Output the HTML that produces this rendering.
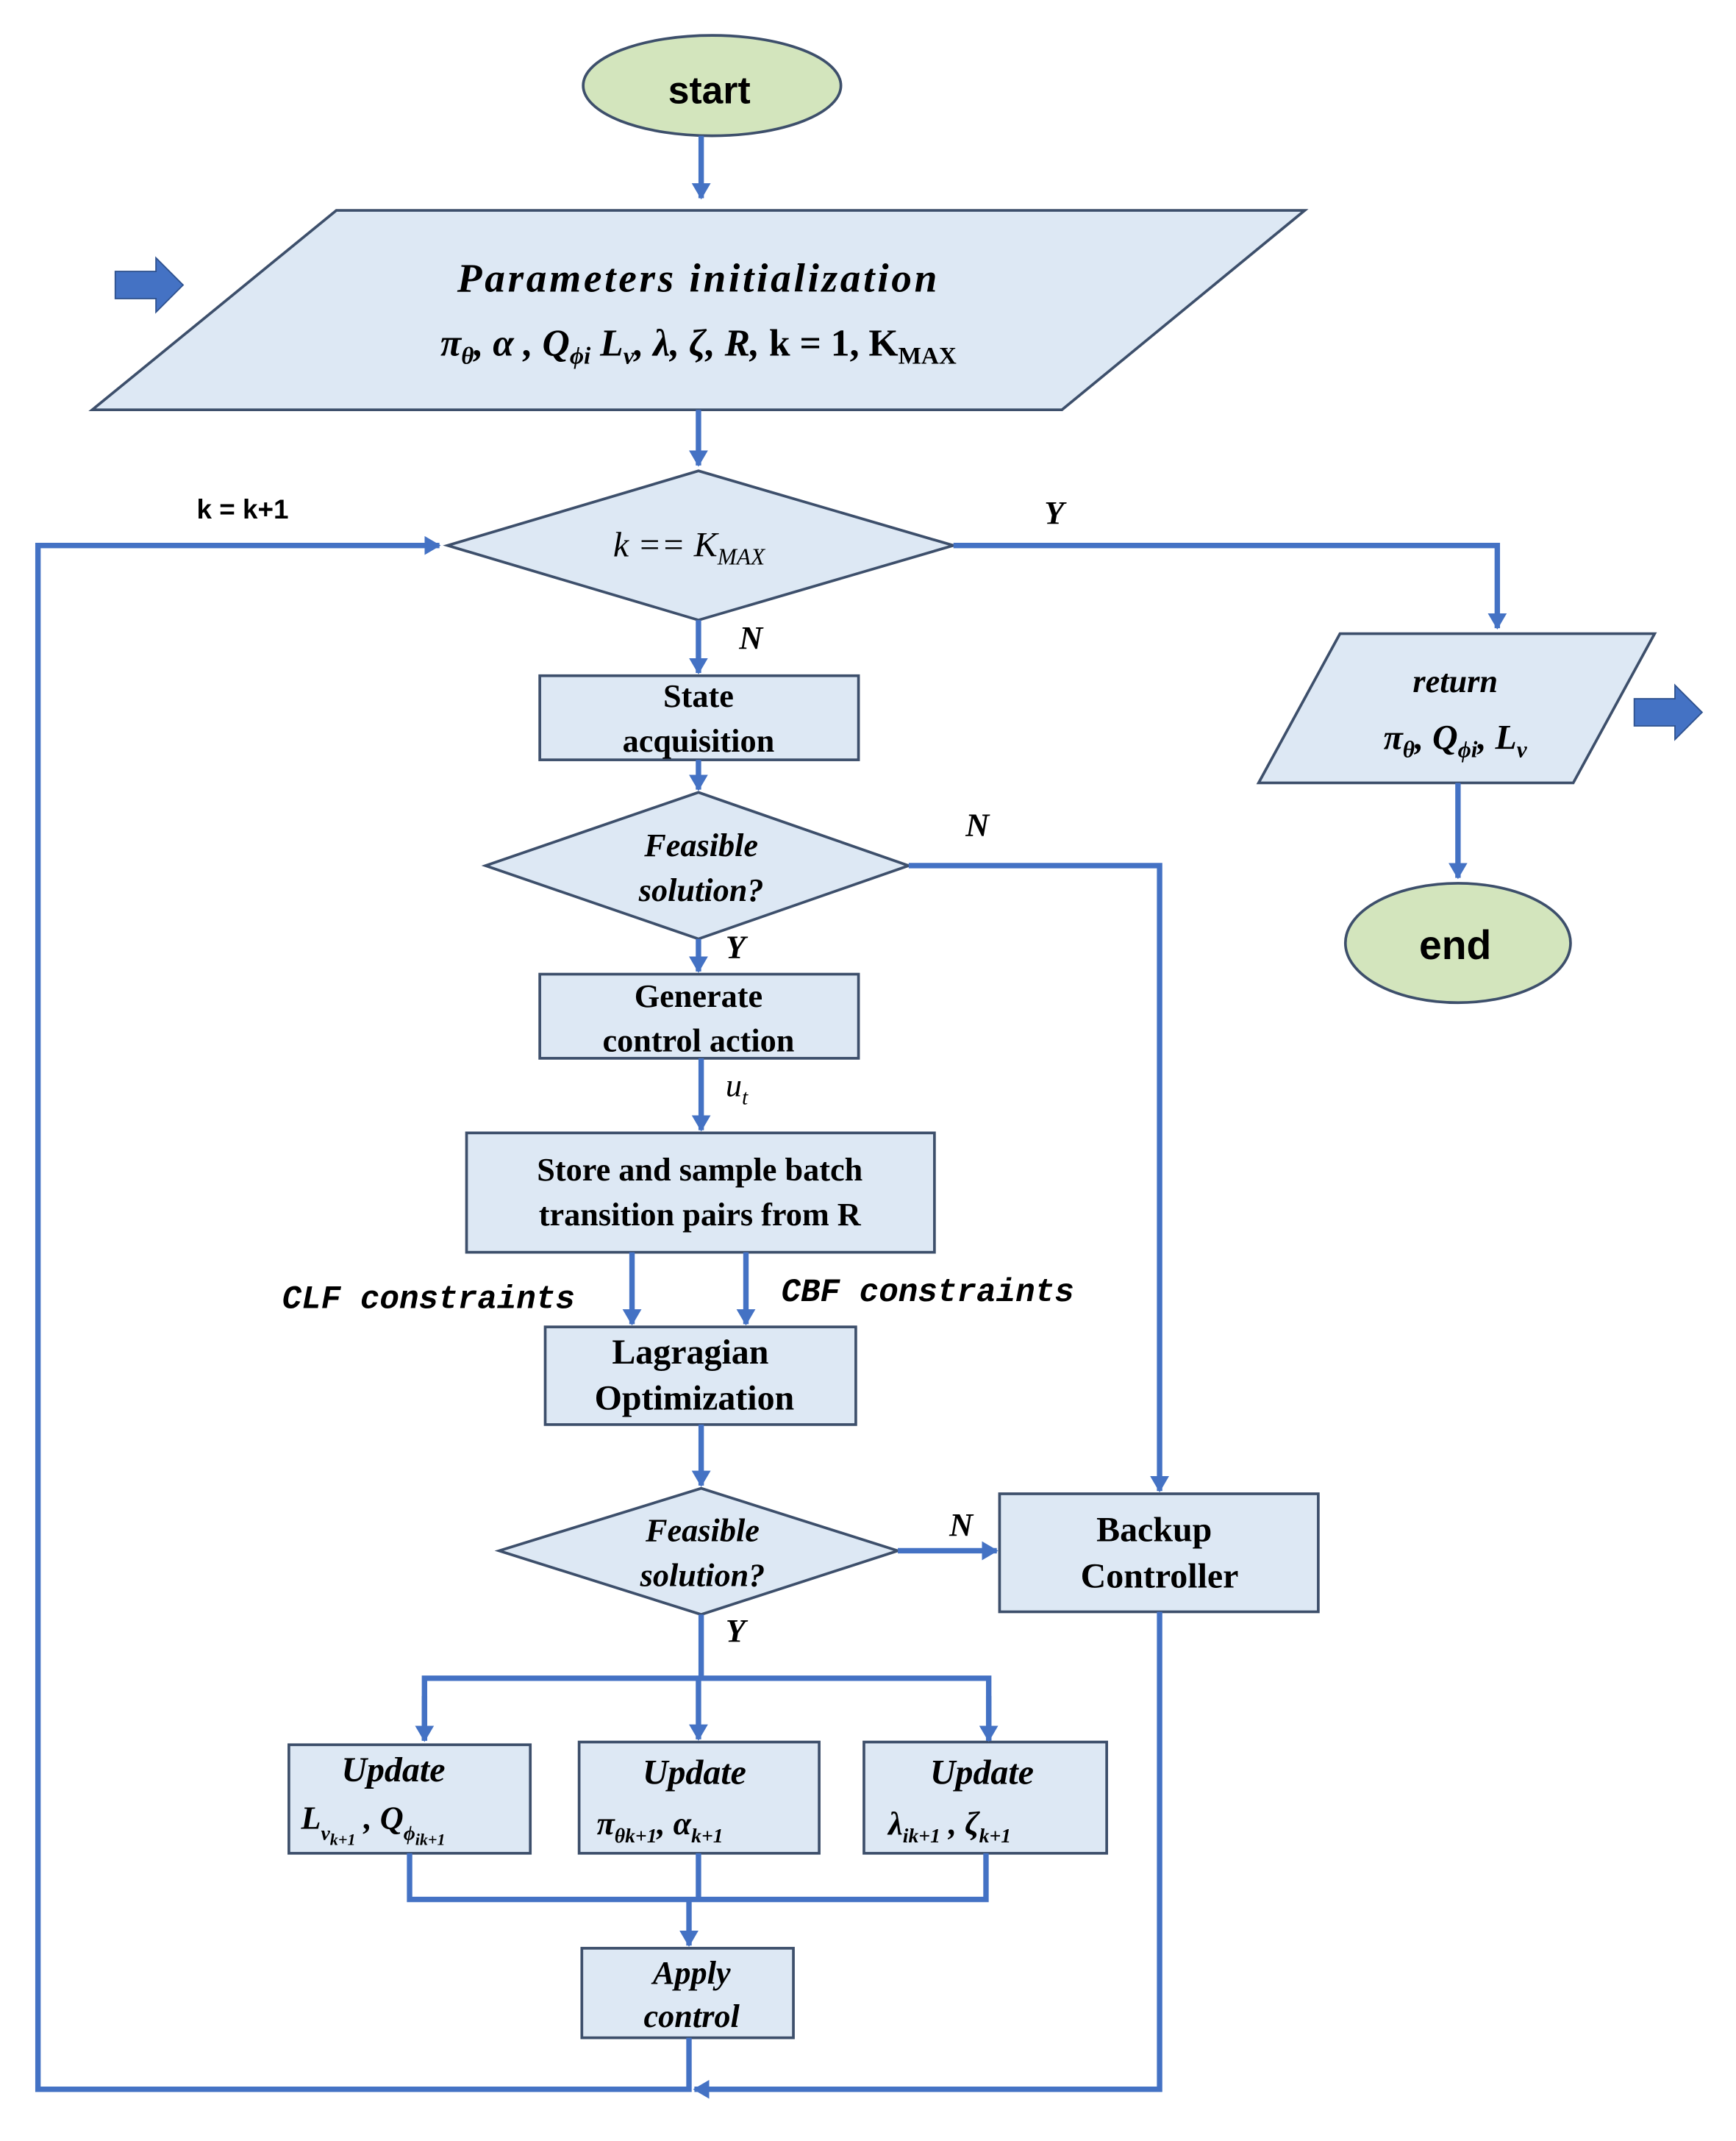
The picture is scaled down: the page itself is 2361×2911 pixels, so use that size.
<!DOCTYPE html>
<html><head><meta charset="utf-8"><style>
html,body{margin:0;padding:0;background:#fff;}
svg{display:block;}
text{font-family:"Liberation Sans",sans-serif;}
.sf{font-family:"Liberation Serif",serif;}
</style></head><body>
<svg width="2361" height="2911" viewBox="0 0 1280 1578" xmlns="http://www.w3.org/2000/svg">
<defs>
<marker id="a" markerWidth="8" markerHeight="8" refX="6" refY="4" orient="auto" markerUnits="userSpaceOnUse"><path d="M0,0 L8,4 L0,8 Z" fill="#4472c4"/></marker>
<marker id="b" markerWidth="14" markerHeight="14" refX="11" refY="7" orient="auto" markerUnits="userSpaceOnUse"><path d="M0,0 L12,7 L0,14 Z" fill="#4472c4"/></marker>
</defs>
<g fill="#dde8f4" stroke="#3d4f6b" stroke-width="2">
<ellipse cx="525" cy="63" rx="95" ry="37" fill="#d3e5bd"/>
<polygon points="248,155 962,155 783,302 68,302"/>
<polygon points="330,402 515,347 703,402 515,457"/>
<polygon points="988,467 1220,467 1160,577 928,577"/>
<ellipse cx="1075" cy="695" rx="83" ry="44" fill="#d3e5bd"/>
<rect x="398" y="498" width="235" height="62"/>
<polygon points="358,638 515,584 670,638 515,692"/>
<rect x="398" y="718" width="235" height="62"/>
<rect x="344" y="835" width="345" height="88"/>
<rect x="402" y="978" width="229" height="72"/>
<polygon points="368,1143 517,1097 662,1143 517,1190"/>
<rect x="737" y="1101" width="235" height="87"/>
<rect x="213" y="1286" width="178" height="80"/>
<rect x="427" y="1284" width="177" height="82"/>
<rect x="637" y="1284" width="179" height="82"/>
<rect x="429" y="1436" width="156" height="66"/>
</g>
<g stroke="#4472c4" stroke-width="4" fill="none">
<line x1="517" y1="100" x2="517" y2="146" marker-end="url(#b)"/>
<line x1="515" y1="302" x2="515" y2="343" marker-end="url(#b)"/>
<polyline points="508,1502 508,1540 28,1540 28,402 324,402" marker-end="url(#b)"/>
<polyline points="703,402 1104,402 1104,463" marker-end="url(#b)"/>
<line x1="1075" y1="577" x2="1075" y2="647" marker-end="url(#b)"/>
<line x1="515" y1="457" x2="515" y2="496" marker-end="url(#b)"/>
<line x1="515" y1="560" x2="515" y2="582" marker-end="url(#b)"/>
<polyline points="670,638 855,638 855,1099" marker-end="url(#b)"/>
<line x1="515" y1="692" x2="515" y2="716" marker-end="url(#b)"/>
<line x1="517" y1="780" x2="517" y2="833" marker-end="url(#b)"/>
<line x1="466" y1="923" x2="466" y2="976" marker-end="url(#b)"/>
<line x1="550" y1="923" x2="550" y2="976" marker-end="url(#b)"/>
<line x1="517" y1="1050" x2="517" y2="1095" marker-end="url(#b)"/>
<line x1="662" y1="1143" x2="735" y2="1143" marker-end="url(#b)"/>
<polyline points="855,1188 855,1540 512,1540" marker-end="url(#b)"/>
<line x1="517" y1="1190" x2="517" y2="1237"/>
<polyline points="313,1283 313,1237 729,1237 729,1283"/>
<line x1="313" y1="1250" x2="313" y2="1283" marker-end="url(#b)"/>
<line x1="729" y1="1250" x2="729" y2="1283" marker-end="url(#b)"/>
<line x1="515" y1="1237" x2="515" y2="1282" marker-end="url(#b)"/>
<polyline points="302,1366 302,1400 727,1400 727,1366"/>
<line x1="515" y1="1366" x2="515" y2="1400"/>
<line x1="508" y1="1400" x2="508" y2="1434" marker-end="url(#b)"/>
</g>
<polygon points="85,200 115,200 115,190 135,210 115,230 115,220 85,220" fill="#4472c4" stroke="#2f528f"/>
<polygon points="1205,515 1235,515 1235,505 1255,525 1235,545 1235,535 1205,535" fill="#4472c4" stroke="#2f528f"/>
<g fill="#000">
<text x="523" y="76" font-size="28" font-weight="bold" text-anchor="middle">start</text>
<text x="1073" y="707" font-size="30" font-weight="bold" text-anchor="middle">end</text>
<text class="sf" x="515" y="215" font-size="30" font-weight="bold" font-style="italic" text-anchor="middle" letter-spacing="2">Parameters initialization</text>
<text class="sf" x="515" y="262" font-size="28" font-weight="bold" font-style="italic" text-anchor="middle">π<tspan font-size="18" dy="6">θ</tspan><tspan dy="-6">, α , Q</tspan><tspan font-size="18" dy="6">ϕi</tspan><tspan dy="-6"> L</tspan><tspan font-size="18" dy="6">v</tspan><tspan dy="-6">, λ, ζ, R, </tspan><tspan font-style="normal">k = 1, K</tspan><tspan font-size="18" dy="6" font-style="normal">MAX</tspan></text>
<text class="sf" x="508" y="410" font-size="26" font-style="italic" text-anchor="middle">k ==  K<tspan font-size="17" dy="6">MAX</tspan></text>
<text x="145" y="382" font-size="20" font-weight="bold">k = k+1</text>
<text class="sf" x="770" y="386" font-size="24" font-weight="bold" font-style="italic">Y</text>
<text class="sf" x="545" y="478" font-size="24" font-weight="bold" font-style="italic">N</text>
<text class="sf" x="1073" y="510" font-size="24" font-weight="bold" font-style="italic" text-anchor="middle">return</text>
<text class="sf" x="1073" y="552" font-size="26" font-weight="bold" font-style="italic" text-anchor="middle">π<tspan font-size="17" dy="6">θ</tspan><tspan dy="-6">, Q</tspan><tspan font-size="17" dy="6">ϕi</tspan><tspan dy="-6">, L</tspan><tspan font-size="17" dy="6">v</tspan></text>
<text x="515" y="521" font-size="24" font-weight="bold" text-anchor="middle" class="sf">State</text>
<text x="515" y="554" font-size="24" font-weight="bold" text-anchor="middle" class="sf">acquisition</text>
<text class="sf" x="517" y="631" font-size="24" font-weight="bold" font-style="italic" text-anchor="middle">Feasible</text>
<text class="sf" x="517" y="664" font-size="24" font-weight="bold" font-style="italic" text-anchor="middle">solution?</text>
<text class="sf" x="712" y="616" font-size="24" font-weight="bold" font-style="italic">N</text>
<text class="sf" x="535" y="706" font-size="24" font-weight="bold" font-style="italic">Y</text>
<text class="sf" x="515" y="742" font-size="24" font-weight="bold" text-anchor="middle">Generate</text>
<text class="sf" x="515" y="775" font-size="24" font-weight="bold" text-anchor="middle">control action</text>
<text class="sf" x="535" y="808" font-size="24" font-style="italic">u<tspan font-size="16" dy="6">t</tspan></text>
<text class="sf" x="516" y="870" font-size="24" font-weight="bold" text-anchor="middle">Store and sample batch</text>
<text class="sf" x="516" y="903" font-size="24" font-weight="bold" text-anchor="middle">transition pairs from R</text>
<text x="208" y="964" font-size="24" font-weight="bold" font-style="italic" font-family="Liberation Mono, monospace" style="font-family:'Liberation Mono',monospace">CLF constraints</text>
<text x="576" y="959" font-size="24" font-weight="bold" font-style="italic" style="font-family:'Liberation Mono',monospace">CBF constraints</text>
<text class="sf" x="509" y="1005" font-size="26" font-weight="bold" text-anchor="middle">Lagragian</text>
<text class="sf" x="512" y="1039" font-size="26" font-weight="bold" text-anchor="middle">Optimization</text>
<text class="sf" x="518" y="1136" font-size="24" font-weight="bold" font-style="italic" text-anchor="middle">Feasible</text>
<text class="sf" x="518" y="1169" font-size="24" font-weight="bold" font-style="italic" text-anchor="middle">solution?</text>
<text class="sf" x="700" y="1132" font-size="24" font-weight="bold" font-style="italic">N</text>
<text class="sf" x="535" y="1210" font-size="24" font-weight="bold" font-style="italic">Y</text>
<text class="sf" x="851" y="1136" font-size="26" font-weight="bold" text-anchor="middle">Backup</text>
<text class="sf" x="855" y="1170" font-size="26" font-weight="bold" text-anchor="middle">Controller</text>
<text class="sf" x="290" y="1313" font-size="26" font-weight="bold" font-style="italic" text-anchor="middle">Update</text>
<text class="sf" x="222" y="1348" font-size="24" font-weight="bold" font-style="italic">L<tspan font-size="15" dy="8">v</tspan><tspan font-size="12" dy="4">k+1</tspan><tspan dy="-12"> , Q</tspan><tspan font-size="15" dy="8">ϕ</tspan><tspan font-size="12" dy="4">ik+1</tspan></text>
<text class="sf" x="512" y="1315" font-size="26" font-weight="bold" font-style="italic" text-anchor="middle">Update</text>
<text class="sf" x="440" y="1352" font-size="24" font-weight="bold" font-style="italic">π<tspan font-size="15" dy="6">θk+1</tspan><tspan dy="-6">, α</tspan><tspan font-size="15" dy="6">k+1</tspan></text>
<text class="sf" x="724" y="1315" font-size="26" font-weight="bold" font-style="italic" text-anchor="middle">Update</text>
<text class="sf" x="655" y="1352" font-size="24" font-weight="bold" font-style="italic">λ<tspan font-size="15" dy="6">ik+1</tspan><tspan dy="-6"> , ζ</tspan><tspan font-size="15" dy="6">k+1</tspan></text>
<text class="sf" x="510" y="1462" font-size="24" font-weight="bold" font-style="italic" text-anchor="middle">Apply</text>
<text class="sf" x="510" y="1494" font-size="24" font-weight="bold" font-style="italic" text-anchor="middle">control</text>
</g>
</svg>
</body></html>
